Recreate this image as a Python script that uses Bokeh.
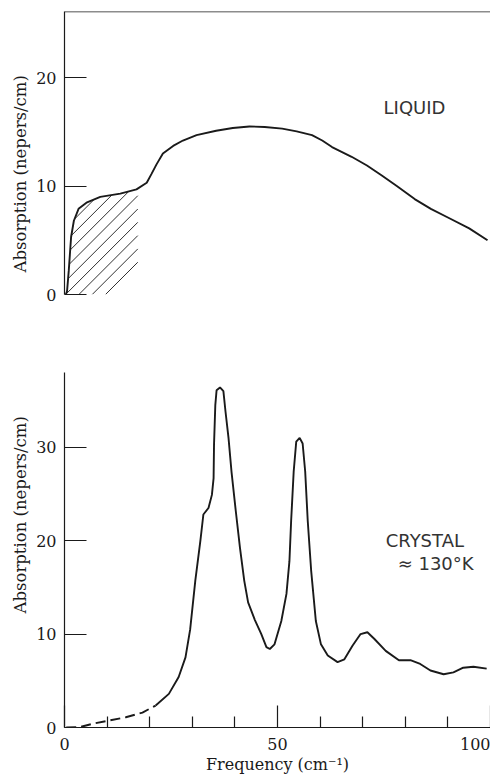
import numpy as np
from bokeh.plotting import figure
from bokeh.layouts import column
from bokeh.models import FixedTicker, Span, Label, Range1d, Title
from bokeh.embed import file_html
from bokeh.resources import INLINE

# Liquid spectrum (frequency cm^-1, absorption nepers/cm)
liquid_x = [0.3, 0.6, 1.0, 1.55, 2.2, 3.3, 5.3, 8.4, 13.1, 16.9,
            19.3, 20.4, 21.6, 23.1, 25.5, 27.8, 31.0, 35.6, 39.5, 43.4, 47.0,
            51.1, 54.5, 58.1, 60.5, 62.8, 67.4, 71.0, 74.4, 78.0, 82.2, 86.0,
            90.0, 95.0, 99.3]
liquid_y = [0.0, 0.3, 2.2, 5.3, 6.8, 7.9, 8.5, 9.0, 9.3, 9.7,
            10.3, 11.1, 12.0, 13.0, 13.7, 14.2, 14.7, 15.1, 15.35, 15.5, 15.45,
            15.3, 15.05, 14.7, 14.2, 13.6, 12.7, 11.9, 11.0, 10.0, 8.8, 7.9,
            7.1, 6.1, 5.0]
hatch_end = 17.2  # upper frequency of the hatched band

# Crystal spectrum (~130 K)
crystal_x = [0.4, 3.5, 6.6, 10.5, 14.4, 18.3, 21.4,
             24.5, 26.8, 28.4, 29.5, 30.7, 31.9, 32.6, 33.8, 34.6, 35.0, 35.1,
             35.4, 35.7, 36.5, 37.3, 37.8, 38.5, 39.2, 40.2, 41.2, 42.2, 43.1,
             44.7, 46.2, 47.4, 48.2, 49.3, 50.9, 52.1, 52.8, 53.2, 53.8, 54.4,
             55.2, 55.9, 56.5, 57.1, 57.9, 59.0, 60.2, 61.8, 64.1, 65.7, 67.6,
             69.5, 71.1, 72.7, 75.4, 78.5, 81.2, 83.5, 85.9, 89.0, 91.3, 93.6,
             96.0, 99.1]
crystal_y = [0.0, 0.03, 0.4, 0.75, 1.1, 1.6, 2.35,
             3.6, 5.4, 7.5, 10.5, 15.7, 20.0, 22.8, 23.5, 24.9, 26.7, 30.3,
             34.5, 36.1, 36.4, 36.0, 33.8, 31.0, 27.4, 23.2, 19.2, 15.7, 13.4,
             11.5, 10.0, 8.6, 8.4, 8.9, 11.4, 14.3, 17.8, 22.1, 27.4, 30.6,
             31.0, 30.4, 27.4, 22.1, 16.8, 11.4, 8.9, 7.7, 7.0, 7.3, 8.75,
             10.0, 10.2, 9.5, 8.2, 7.2, 7.2, 6.8, 6.1, 5.7, 5.9, 6.4,
             6.5, 6.3]
dashed_until = 21.4  # the curve is drawn dashed below this frequency

x_major = [0, 50, 100]
x_minor = [10, 20, 30, 40, 60, 70, 80, 90]
top_yticks = [0, 10, 20]
bottom_yticks = [0, 10, 20, 30]
y_title = "Absorption (nepers/cm)"
x_title = "Frequency (cm\u207b\u00b9)"

INK = "#1a1a1a"
SERIF = "DejaVu Serif"
W = 490
LEFT = 64
X_END = 100.0
TOP_Y_END = 26.1
BOT_Y_END = 38.0
TOP_FRAME_H = 283
BOT_FRAME_H = 355


def style_y(ax, ticks):
    ax.ticker = FixedTicker(ticks=ticks)
    ax.major_tick_in = 22
    ax.major_tick_out = 0
    ax.minor_tick_in = 0
    ax.minor_tick_out = 0
    ax.major_tick_line_color = INK
    ax.major_tick_line_width = 1.2
    ax.axis_line_color = INK
    ax.axis_line_width = 1.2
    ax.major_label_standoff = 8
    ax.major_label_text_font = SERIF
    ax.major_label_text_font_size = "16px"
    ax.major_label_text_color = INK


def y_title_panel(offset):
    # vertical axis title, placed along the axis starting `offset` px above the frame bottom
    return Title(text=y_title, align="left", offset=offset, standoff=8,
                 text_font=SERIF, text_font_size="16.5px", text_font_style="normal",
                 text_color=INK)


# ---------- top panel: liquid ----------
top = figure(width=W, height=11 + TOP_FRAME_H + 11, x_range=Range1d(0, X_END),
             y_range=Range1d(0, TOP_Y_END),
             output_backend="svg", toolbar_location=None, x_axis_location=None,
             min_border_left=LEFT, min_border_right=0, min_border_top=11, min_border_bottom=11)
top.outline_line_color = None
top.grid.visible = False
style_y(top.yaxis[0], top_yticks)
top.add_layout(Span(location=TOP_Y_END, dimension="width", line_color=INK, line_width=1.4))
top.add_layout(y_title_panel(22), "left")

# 45-degree hatching under the low-frequency part of the liquid curve
sx = (W - LEFT) / X_END          # px per frequency unit
sy = TOP_FRAME_H / TOP_Y_END      # px per absorption unit
xs = np.linspace(0, hatch_end, 600)
curve = np.interp(xs, liquid_x, liquid_y)
hx0, hy0, hx1, hy1 = [], [], [], []
c = 41.0
while c > -200:
    yl = (xs * sx - c) / sy
    m = (yl >= 0) & (yl <= curve)
    if m.any():
        idx = np.where(m)[0]
        hx0.append(xs[idx[0]]); hy0.append(yl[idx[0]])
        hx1.append(xs[idx[-1]]); hy1.append(yl[idx[-1]])
    c -= 13.3
top.segment(hx0, hy0, hx1, hy1, line_color=INK, line_width=0.9)

top.line(liquid_x, liquid_y, line_color=INK, line_width=1.9)
top.add_layout(Label(x=74.9, y=17.25, text="LIQUID", text_font="DejaVu Sans",
                     text_font_size="18px", text_color="#333333", text_baseline="middle"))

# ---------- bottom panel: crystal ----------
bot = figure(width=W, height=67 + BOT_FRAME_H + 49, x_range=Range1d(0, X_END),
             y_range=Range1d(0, BOT_Y_END),
             output_backend="svg", toolbar_location=None,
             min_border_left=LEFT, min_border_right=0, min_border_top=67, min_border_bottom=49)
bot.outline_line_color = None
bot.grid.visible = False
style_y(bot.yaxis[0], bottom_yticks)
bot.add_layout(y_title_panel(114), "left")

xa = bot.xaxis[0]
xa.ticker = FixedTicker(ticks=x_major, minor_ticks=x_minor)
xa.major_tick_in = 22
xa.major_tick_out = 0
xa.minor_tick_in = 11
xa.minor_tick_out = 0
xa.major_tick_line_color = INK
xa.minor_tick_line_color = INK
xa.major_tick_line_width = 1.2
xa.minor_tick_line_width = 1.2
xa.axis_line_color = INK
xa.axis_line_width = 1.2
xa.major_label_standoff = 10
xa.major_label_text_font = SERIF
xa.major_label_text_font_size = "16px"
xa.major_label_text_color = INK
xa.axis_label = x_title
xa.axis_label_text_font = SERIF
xa.axis_label_text_font_size = "16px"
xa.axis_label_text_font_style = "normal"
xa.axis_label_text_color = INK
xa.axis_label_standoff = 2

n_dash = len([x for x in crystal_x if x <= dashed_until])
bot.line(crystal_x[:n_dash], crystal_y[:n_dash], line_color=INK, line_width=1.9,
         line_dash="10 5")
bot.line(crystal_x[n_dash - 1:], crystal_y[n_dash - 1:], line_color=INK, line_width=1.9)

bot.add_layout(Label(x=75.4, y=20.0, text="CRYSTAL", text_font="DejaVu Sans",
                     text_font_size="18px", text_color="#333333", text_baseline="middle"))
bot.add_layout(Label(x=78.2, y=17.6, text="\u2248 130\u00b0K", text_font="DejaVu Sans",
                     text_font_size="18px", text_color="#333333", text_baseline="middle"))

layout = column(top, bot, spacing=0)
open("out.html", "w").write(file_html(layout, INLINE))
